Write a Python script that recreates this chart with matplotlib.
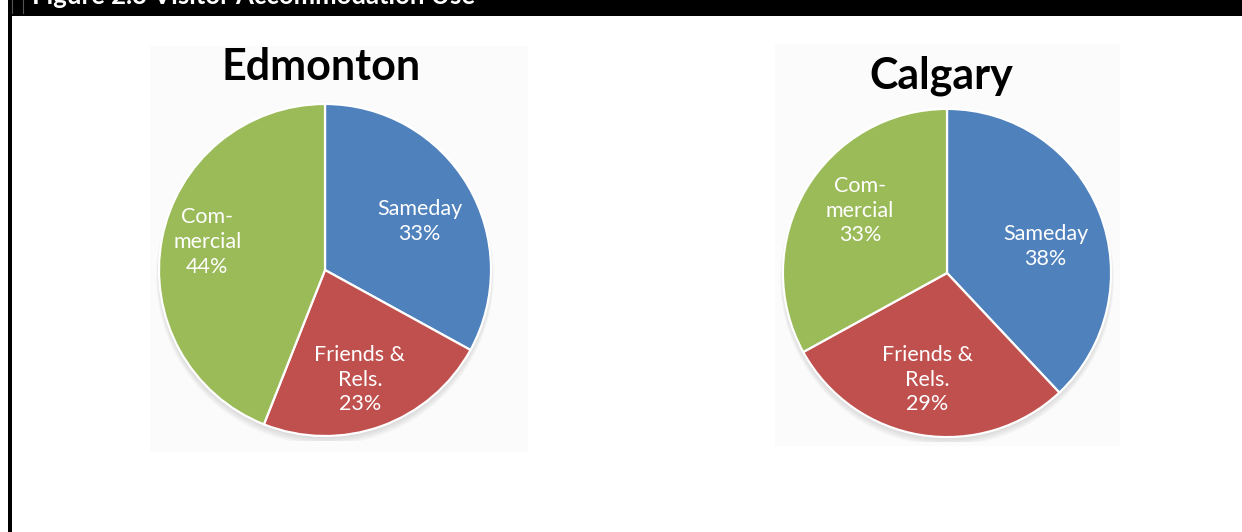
import numpy as np
import matplotlib.pyplot as plt
from matplotlib.patches import Rectangle, Circle

plt.rcParams["font.family"] = ["Lato", "DejaVu Sans"]

# accommodation shares by city (percent)
categories = ["Sameday", "Friends &\nRels.", "Com-\nmercial"]
edmonton = [33, 23, 44]
calgary = [38, 29, 33]

COLORS = ["#4F81BD", "#C0504D", "#9BBB59"]

W, H = 1242, 532
fig = plt.figure(figsize=(W / 100, H / 100), dpi=100)
fig.patch.set_facecolor("white")


def px_box(x0, y0, x1, y1):
    # pixel box (top-left origin) -> figure fraction rect
    return [x0 / W, 1 - y1 / H, (x1 - x0) / W, (y1 - y0) / H]


# header bar and left frame line
bg = fig.add_axes([0, 0, 1, 1])
bg.set_xlim(0, W)
bg.set_ylim(H, 0)
bg.axis("off")
bg.add_patch(Rectangle((8, 0), W - 8, 16, color="black", lw=0))
bg.add_patch(Rectangle((8, 0), 3.5, H, color="black", lw=0))
bg.plot([12, 12], [0, 13], color="#555555", lw=0.8)
bg.plot([23, 23], [0, 13], color="#555555", lw=0.8)
fig.text(32 / W, 1 - 4 / H, "Figure 2.3 Visitor Accommodation Use",
         color="white", fontsize=18.5, fontweight="bold", va="baseline")

# light plot-area panels behind each pie
bg.add_patch(Rectangle((150, 46), 378, 406, color="#fbfbfb", lw=0))
bg.add_patch(Rectangle((775, 44), 345, 402, color="#fbfbfb", lw=0))


def draw_pie(box, values, title, title_xy, label_pos):
    ax = fig.add_axes(px_box(*box))
    # soft drop shadow, heavier at the bottom
    for i in range(5):
        ax.add_patch(Circle((0, -0.012 - 0.006 * i), 1.0 + 0.004 * i,
                            color="#777777", alpha=0.05, lw=0, zorder=0))
    wedges, _ = ax.pie(values, colors=COLORS, startangle=90, counterclock=False,
                       radius=1.0,
                       wedgeprops=dict(edgecolor="white", linewidth=1.6))
    for w in wedges:
        w.set_zorder(2)
    for cat, v, (lx, ly) in zip(categories, values, label_pos):
        ax.text(lx, ly, f"{cat}\n{v}%", ha="center", va="center",
                color="white", fontsize=15.5, linespacing=1.3, zorder=3)
    ax.set_xlim(-1.03, 1.03)
    ax.set_ylim(-1.03, 1.03)
    ax.set_aspect("equal")
    ax.axis("off")
    bg.text(title_xy[0], title_xy[1], title, ha="center", va="center",
            fontsize=31, fontweight="bold", color="black")


# Edmonton: centre (325, 270), radius 166 px
draw_pie((154, 99, 496, 441), edmonton, "Edmonton", (321, 67),
         [(0.57, 0.29), (0.21, -0.66), (-0.71, 0.17)])

# Calgary: centre (947, 273), radius 164 px
draw_pie((778, 104, 1116, 442), calgary, "Calgary", (941, 76),
         [(0.60, 0.16), (-0.12, -0.65), (-0.53, 0.38)])

fig.savefig("out.png", dpi=100, facecolor="white")
